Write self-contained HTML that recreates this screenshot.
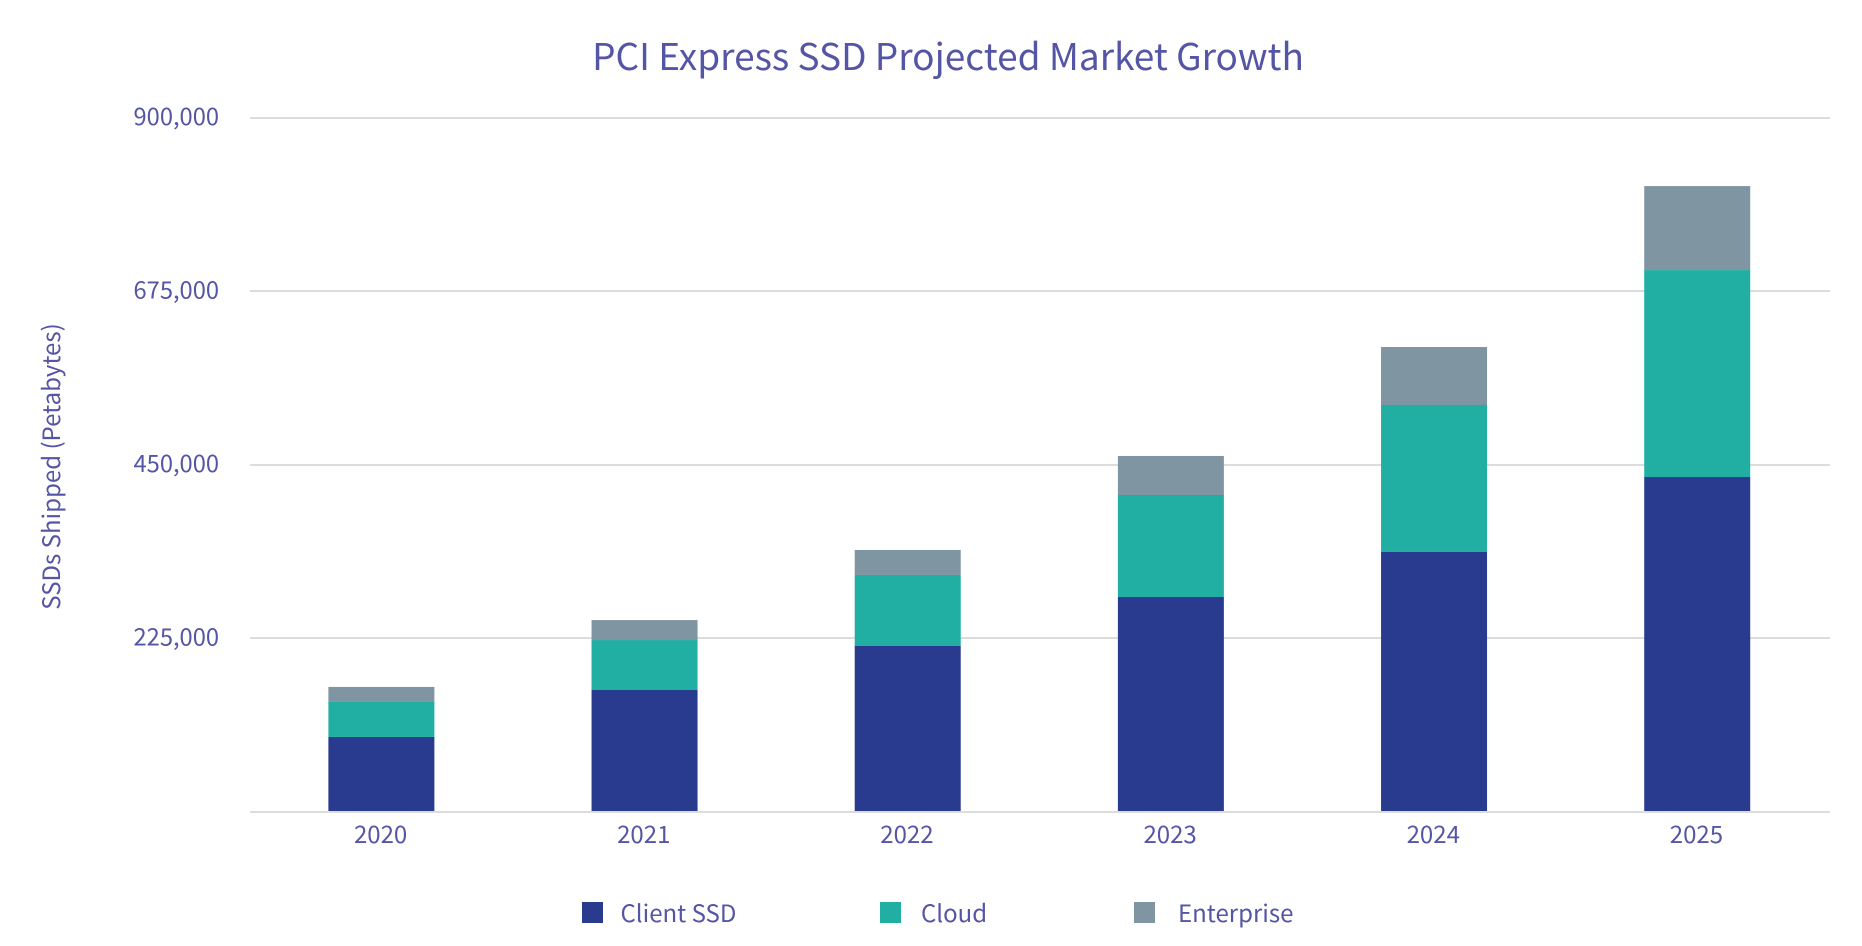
<!DOCTYPE html>
<html lang="en">
<head>
<meta charset="utf-8">
<title>PCI Express SSD Projected Market Growth</title>
<style>
html,body{margin:0;padding:0;background:#fff;width:1862px;height:946px;overflow:hidden}
svg{display:block}
text{font-family:"Noto Sans CJK SC","Liberation Sans",sans-serif;fill:#5555a5}
</style>
</head>
<body>
<svg id="chart" xmlns="http://www.w3.org/2000/svg" width="1862" height="946" viewBox="0 0 1862 946">
  <text x="948" y="70" text-anchor="middle" font-size="37">PCI Express SSD Projected Market Growth</text>
  <text transform="translate(60 466.5) rotate(-90)" text-anchor="middle" font-size="24">SSDs Shipped (Petabytes)</text>
  <g id="grid"></g>
  <g id="bars"></g>
  <g id="axis"></g>
  <g>
    <g>
      <rect x="582" y="902" width="21" height="21" fill="#293b8e"></rect>
      <text x="620.5" y="922" font-size="24">Client SSD</text>
    </g>
    <g>
      <rect x="880" y="902" width="21" height="21" fill="#21afa3"></rect>
      <text x="921" y="922" font-size="24">Cloud</text>
    </g>
    <g>
      <rect x="1134" y="902" width="21" height="21" fill="#7f95a1"></rect>
      <text x="1178" y="922" font-size="24">Enterprise</text>
    </g>
  </g>
</svg>
<script>
const categories = ['2020', '2021', '2022', '2023', '2024', '2025'];
const clientSsd = [97300, 158200, 215300, 278800, 337200, 434400];
const cloud = [45400, 64800, 92100, 132300, 190600, 268400];
const enterprise = [19500, 25900, 32400, 50600, 75200, 108900];
const yTicks = [0, 225000, 450000, 675000, 900000];
const yMax = 900000;

const NS = 'http://www.w3.org/2000/svg';
const plotLeft = 250, plotRight = 1830, plotTop = 118, plotBottom = 812, barWidth = 106;
const bandLeft = 249.8, bandRight = 1828.8;

function yScale(v) { return plotBottom - (v / yMax) * (plotBottom - plotTop); }
function xBand(i) { return bandLeft + (i + 0.5) * (bandRight - bandLeft) / categories.length; }
function make(tag, attrs, parent) {
  const el = document.createElementNS(NS, tag);
  for (const k in attrs) el.setAttribute(k, attrs[k]);
  parent.appendChild(el);
  return el;
}

const gridG = document.getElementById('grid');
const barsG = document.getElementById('bars');
const axisG = document.getElementById('axis');

yTicks.forEach(function (t) {
  const y = yScale(t);
  if (t !== 0) {
    const line = make('rect', { x: plotLeft, y: Math.floor(y - 1), width: plotRight - plotLeft, height: 2, fill: '#dcdcdc' }, gridG);
    
    
    const label = make('text', { x: 219, y: y + 7, 'text-anchor': 'end', 'font-size': 23.7 }, gridG);
    
    
    label.textContent = t.toLocaleString('en-US');
  }
});

const seriesList = [
  { name: 'client-ssd', values: clientSsd, color: '#293b8e' },
  { name: 'cloud', values: cloud, color: '#21afa3' },
  { name: 'enterprise', values: enterprise, color: '#7f95a1' }
];

categories.forEach(function (cat, i) {
  let base = 0;
  seriesList.forEach(function (s) {
    const top = base + s.values[i];
    const y1 = yScale(top), y0 = yScale(base);
    const r = make('rect', { x: xBand(i) - barWidth / 2, y: y1, width: barWidth, height: y0 - y1, fill: s.color }, barsG);
    
    
    base = top;
  });
  const lab = make('text', { x: xBand(i) - 0.8, y: 843, 'text-anchor': 'middle', 'font-size': 24 }, axisG);
  
  
  lab.textContent = cat;
});

const baseline = make('rect', { x: plotLeft, y: yScale(0) - 1, width: plotRight - plotLeft, height: 2, fill: '#dcdcdc' }, axisG);


</script>
</body>
</html>
